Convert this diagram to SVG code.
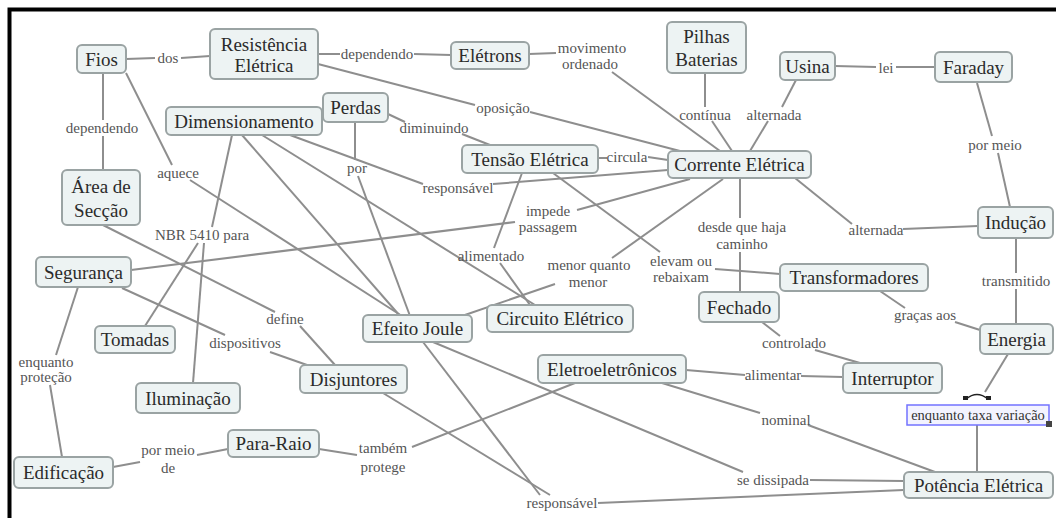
<svg xmlns="http://www.w3.org/2000/svg" width="1056" height="518" viewBox="0 0 1056 518">
<style>
.n rect{fill:#edf3f3;stroke:#9aa3a3;stroke-width:2}
.n text{font-family:"Liberation Serif",serif;font-size:19px;fill:#2b2b2b;text-anchor:middle}
.l{font-family:"Liberation Serif",serif;font-size:15px;fill:#555;text-anchor:middle}
#connectors line{stroke:#8e8e8e;stroke-width:2}
</style>
<rect width="1056" height="518" fill="#fff"/>
<path d="M9.5,518 V9.5 H1056" fill="none" stroke="#000" stroke-width="4"/>
<g id="connectors">
<line x1="126" y1="59" x2="155" y2="58"/><line x1="181" y1="58" x2="210" y2="56"/>
<line x1="318" y1="54" x2="340" y2="54"/><line x1="414" y1="54" x2="451" y2="55"/>
<line x1="529" y1="54" x2="556" y2="53"/><line x1="612" y1="72" x2="720" y2="151"/>
<line x1="318" y1="64" x2="475" y2="105"/><line x1="530" y1="112" x2="680" y2="151"/>
<line x1="705" y1="73" x2="705" y2="107"/><line x1="712" y1="121" x2="732" y2="151"/>
<line x1="796" y1="80" x2="782" y2="107"/><line x1="768" y1="121" x2="750" y2="151"/>
<line x1="835" y1="66" x2="876" y2="67"/><line x1="896" y1="67" x2="935" y2="67"/>
<line x1="977" y1="83" x2="992" y2="136"/><line x1="998" y1="153" x2="1010" y2="207"/>
<line x1="795" y1="178" x2="852" y2="224"/><line x1="903" y1="229" x2="978" y2="226"/>
<line x1="1016" y1="238" x2="1016" y2="273"/><line x1="1016" y1="289" x2="1016" y2="324"/>
<line x1="103" y1="73" x2="103" y2="120"/><line x1="103" y1="136" x2="103" y2="170"/>
<line x1="126" y1="73" x2="172" y2="165"/><line x1="190" y1="180" x2="402" y2="316"/>
<line x1="232" y1="135" x2="212" y2="227"/><line x1="198" y1="243" x2="145" y2="326"/><line x1="204" y1="243" x2="193" y2="383"/>
<line x1="290" y1="135" x2="423" y2="184"/><line x1="493" y1="184" x2="668" y2="170"/>
<line x1="242" y1="135" x2="400" y2="316"/><line x1="262" y1="135" x2="535" y2="305"/>
<line x1="388" y1="114" x2="405" y2="122"/><line x1="462" y1="134" x2="490" y2="145"/>
<line x1="355" y1="122" x2="355" y2="160"/><line x1="358" y1="176" x2="410" y2="316"/>
<line x1="522" y1="173" x2="494" y2="248"/><line x1="500" y1="263" x2="530" y2="305"/>
<line x1="598" y1="158" x2="607" y2="158"/><line x1="648" y1="157" x2="668" y2="160"/>
<line x1="553" y1="173" x2="660" y2="252"/><line x1="715" y1="269" x2="780" y2="274"/>
<line x1="690" y1="179" x2="577" y2="210"/><line x1="515" y1="222" x2="131" y2="270"/>
<line x1="723" y1="179" x2="612" y2="258"/><line x1="555" y1="284" x2="462" y2="316"/>
<line x1="740" y1="179" x2="740" y2="218"/><line x1="740" y1="252" x2="740" y2="292"/>
<line x1="762" y1="322" x2="780" y2="336"/><line x1="815" y1="350" x2="860" y2="363"/>
<line x1="880" y1="291" x2="905" y2="308"/><line x1="955" y1="322" x2="980" y2="330"/>
<line x1="103" y1="225" x2="275" y2="312"/><line x1="300" y1="326" x2="335" y2="365"/>
<line x1="122" y1="288" x2="225" y2="335"/><line x1="270" y1="352" x2="307" y2="365"/>
<line x1="78" y1="287" x2="56" y2="355"/><line x1="50" y1="385" x2="62" y2="457"/>
<line x1="113" y1="467" x2="140" y2="462"/><line x1="197" y1="455" x2="228" y2="449"/>
<line x1="319" y1="449" x2="357" y2="455"/><line x1="412" y1="447" x2="575" y2="383"/>
<line x1="383" y1="393" x2="550" y2="495"/>
<line x1="423" y1="342" x2="540" y2="495"/>
<line x1="433" y1="342" x2="743" y2="472"/><line x1="810" y1="480" x2="904" y2="481"/>
<line x1="598" y1="503" x2="904" y2="490"/>
<line x1="686" y1="370" x2="745" y2="375"/><line x1="801" y1="376" x2="843" y2="377"/>
<line x1="662" y1="383" x2="760" y2="413"/><line x1="808" y1="425" x2="935" y2="472"/>
<line x1="1008" y1="354" x2="985" y2="392"/><line x1="977" y1="425" x2="977" y2="472"/>
</g>
<g id="labels">
<text class="l" x="168" y="63">dos</text>
<text class="l" x="377" y="59">dependendo</text>
<text class="l" x="592" y="53">movimento</text>
<text class="l" x="590" y="69">ordenado</text>
<text class="l" x="503" y="113">oposição</text>
<text class="l" x="102" y="133">dependendo</text>
<text class="l" x="178" y="178">aquece</text>
<text class="l" x="434" y="133">diminuindo</text>
<text class="l" x="357" y="173">por</text>
<text class="l" x="458" y="193">responsável</text>
<text class="l" x="627" y="162">circula</text>
<text class="l" x="705" y="120">contínua</text>
<text class="l" x="774" y="120">alternada</text>
<text class="l" x="886" y="73">lei</text>
<text class="l" x="995" y="150">por meio</text>
<text class="l" x="548" y="216">impede</text>
<text class="l" x="548" y="232">passagem</text>
<text class="l" x="491" y="261">alimentado</text>
<text class="l" x="589" y="270">menor quanto</text>
<text class="l" x="588" y="287">menor</text>
<text class="l" x="681" y="266">elevam ou</text>
<text class="l" x="681" y="282">rebaixam</text>
<text class="l" x="742" y="232">desde que haja</text>
<text class="l" x="742" y="249">caminho</text>
<text class="l" x="876" y="235">alternada</text>
<text class="l" x="1016" y="286">transmitido</text>
<text class="l" x="925" y="320">graças aos</text>
<text class="l" x="202" y="240">NBR 5410 para</text>
<text class="l" x="285" y="324">define</text>
<text class="l" x="245" y="348">dispositivos</text>
<text class="l" x="46" y="367">enquanto</text>
<text class="l" x="46" y="382">proteção</text>
<text class="l" x="168" y="455">por meio</text>
<text class="l" x="168" y="473">de</text>
<text class="l" x="383" y="453">também</text>
<text class="l" x="383" y="472">protege</text>
<text class="l" x="562" y="508">responsável</text>
<text class="l" x="773" y="485">se dissipada</text>
<text class="l" x="786" y="425">nominal</text>
<text class="l" x="773" y="380">alimentar</text>
<text class="l" x="794" y="348">controlado</text>
</g>
<g id="n-fios" class="n"><rect x="77" y="45" width="49" height="28" rx="5"/><text x="101.5" y="65.5">Fios</text></g>
<g id="n-resistencia" class="n"><rect x="210" y="29" width="108" height="50" rx="5"/><text x="264" y="51">Resistência</text><text x="264" y="72">Elétrica</text></g>
<g id="n-eletrons" class="n"><rect x="451" y="42" width="78" height="27" rx="5"/><text x="490" y="62">Elétrons</text></g>
<g id="n-pilhas" class="n"><rect x="667" y="22" width="79" height="51" rx="5"/><text x="706.5" y="42.5">Pilhas</text><text x="706.5" y="66">Baterias</text></g>
<g id="n-usina" class="n"><rect x="780" y="52" width="55" height="28" rx="5"/><text x="807.5" y="72.5">Usina</text></g>
<g id="n-faraday" class="n"><rect x="935" y="52" width="77" height="30" rx="5"/><text x="973.5" y="73.5">Faraday</text></g>
<g id="n-dimensionamento" class="n"><rect x="166" y="107" width="156" height="28" rx="5"/><text x="244" y="127.5">Dimensionamento</text></g>
<g id="n-perdas" class="n"><rect x="323" y="93" width="65" height="29" rx="5"/><text x="355.5" y="114">Perdas</text></g>
<g id="n-tensao" class="n"><rect x="462" y="145" width="136" height="28" rx="5"/><text x="530" y="165.5">Tensão Elétrica</text></g>
<g id="n-corrente" class="n"><rect x="668" y="151" width="143" height="27" rx="5"/><text x="739.5" y="171">Corrente Elétrica</text></g>
<g id="n-area" class="n"><rect x="62" y="170" width="78" height="55" rx="5"/><text x="101" y="193">Área de</text><text x="101" y="216.5">Secção</text></g>
<g id="n-seguranca" class="n"><rect x="36" y="257" width="95" height="30" rx="5"/><text x="83.5" y="278.5">Segurança</text></g>
<g id="n-tomadas" class="n"><rect x="95" y="326" width="80" height="27" rx="5"/><text x="135" y="346">Tomadas</text></g>
<g id="n-iluminacao" class="n"><rect x="136" y="383" width="104" height="30" rx="5"/><text x="188" y="404.5">Iluminação</text></g>
<g id="n-edificacao" class="n"><rect x="14" y="457" width="99" height="31" rx="5"/><text x="63.5" y="479">Edificação</text></g>
<g id="n-pararaio" class="n"><rect x="228" y="430" width="91" height="27" rx="5"/><text x="273.5" y="450">Para-Raio</text></g>
<g id="n-efeito" class="n"><rect x="363" y="315" width="109" height="27" rx="5"/><text x="417.5" y="335">Efeito Joule</text></g>
<g id="n-circuito" class="n"><rect x="487" y="305" width="146" height="27" rx="5"/><text x="560" y="325">Circuito Elétrico</text></g>
<g id="n-fechado" class="n"><rect x="699" y="292" width="80" height="30" rx="5"/><text x="739" y="313.5">Fechado</text></g>
<g id="n-transformadores" class="n"><rect x="780" y="264" width="148" height="27" rx="5"/><text x="854" y="284">Transformadores</text></g>
<g id="n-inducao" class="n"><rect x="978" y="207" width="75" height="31" rx="5"/><text x="1015.5" y="229">Indução</text></g>
<g id="n-energia" class="n"><rect x="980" y="324" width="73" height="30" rx="5"/><text x="1016.5" y="345.5">Energia</text></g>
<g id="n-interruptor" class="n"><rect x="843" y="363" width="99" height="30" rx="5"/><text x="892.5" y="384.5">Interruptor</text></g>
<g id="n-eletroeletronicos" class="n"><rect x="538" y="355" width="148" height="28" rx="5"/><text x="612" y="375.5">Eletroeletrônicos</text></g>
<g id="n-disjuntores" class="n"><rect x="300" y="365" width="107" height="28" rx="5"/><text x="353.5" y="385.5">Disjuntores</text></g>
<g id="n-potencia" class="n"><rect x="904" y="472" width="149" height="26" rx="5"/><text x="978.5" y="491.5">Potência Elétrica</text></g>
<g id="n-taxa">
<rect x="907" y="405" width="142" height="20" fill="#f3f3ff" stroke="#7373ff" stroke-width="1.5"/>
<text x="978" y="420" style="font-family:'Liberation Serif',serif;font-size:14.5px;fill:#333;text-anchor:middle">enquanto taxa variação</text>
<path d="M966,399 Q977,390 988,399" fill="none" stroke="#222" stroke-width="1.5"/>
<rect x="963" y="396" width="5" height="4" fill="#222"/><rect x="986" y="396" width="5" height="4" fill="#222"/>
<rect x="1046" y="421" width="6" height="6" fill="#444"/>
</g>
</svg>
